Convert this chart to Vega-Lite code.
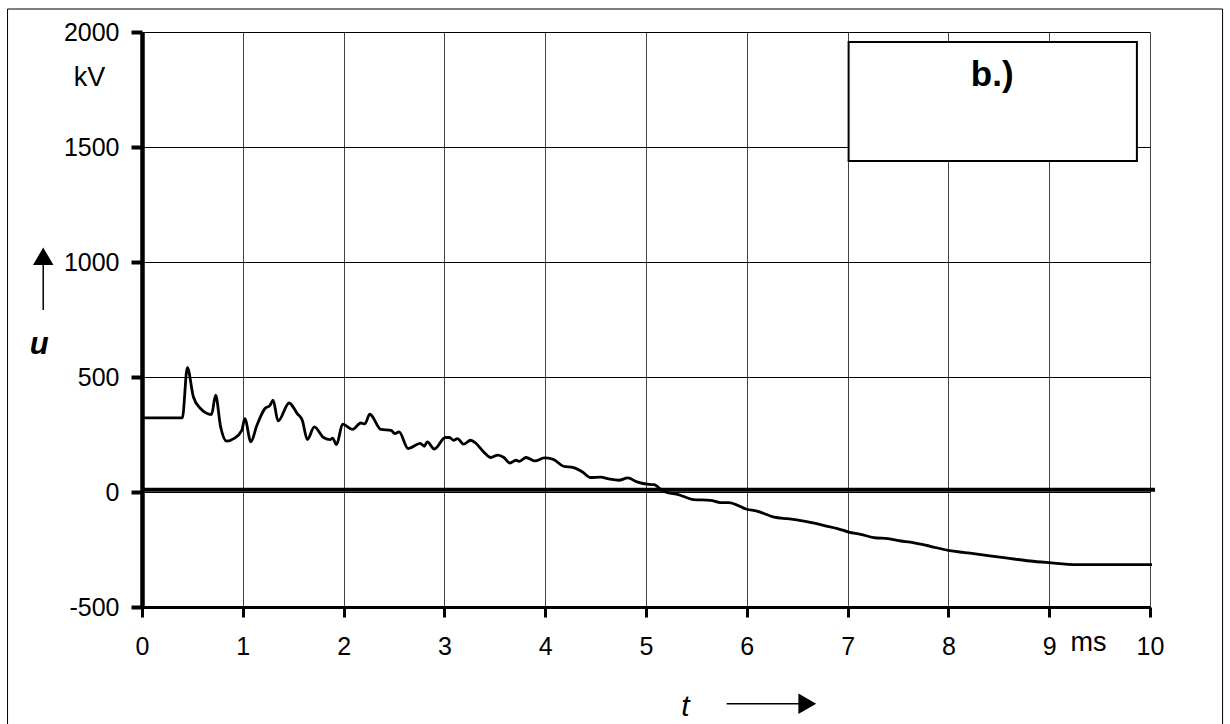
{
  "$schema": "https://vega.github.io/schema/vega-lite/v6.json",
  "width": 1008,
  "height": 575,
  "autosize": "none",
  "padding": {"left": 142, "top": 32, "right": 80, "bottom": 117},
  "background": "white",
  "config": {
    "view": {"stroke": null},
    "font": "Liberation Sans",
    "text": {"font": "Liberation Sans", "color": "black"}
  },
  "datasets": {
    "curve": [
      {"t": 0, "u": 322}, {"t": 0.40, "u": 322}, {"t": 0.45, "u": 541}, {"t": 0.51, "u": 413},
      {"t": 0.58, "u": 363}, {"t": 0.69, "u": 337}, {"t": 0.73, "u": 421}, {"t": 0.78, "u": 283},
      {"t": 0.84, "u": 221}, {"t": 0.91, "u": 232}, {"t": 0.99, "u": 268}, {"t": 1.02, "u": 319},
      {"t": 1.08, "u": 218}, {"t": 1.14, "u": 290}, {"t": 1.22, "u": 363}, {"t": 1.27, "u": 377},
      {"t": 1.30, "u": 399}, {"t": 1.35, "u": 309}, {"t": 1.46, "u": 387}, {"t": 1.54, "u": 341},
      {"t": 1.59, "u": 312}, {"t": 1.64, "u": 228}, {"t": 1.71, "u": 283}, {"t": 1.80, "u": 237},
      {"t": 1.87, "u": 228}, {"t": 1.89, "u": 234}, {"t": 1.93, "u": 206}, {"t": 1.99, "u": 295},
      {"t": 2.09, "u": 272}, {"t": 2.17, "u": 300}, {"t": 2.21, "u": 296}, {"t": 2.26, "u": 338},
      {"t": 2.37, "u": 272}, {"t": 2.47, "u": 268}, {"t": 2.51, "u": 254}, {"t": 2.55, "u": 261},
      {"t": 2.64, "u": 189}, {"t": 2.76, "u": 211}, {"t": 2.80, "u": 199}, {"t": 2.83, "u": 218},
      {"t": 2.90, "u": 187}, {"t": 3.01, "u": 237}, {"t": 3.05, "u": 237}, {"t": 3.09, "u": 225},
      {"t": 3.13, "u": 232}, {"t": 3.19, "u": 208}, {"t": 3.26, "u": 225}, {"t": 3.31, "u": 213},
      {"t": 3.39, "u": 174}, {"t": 3.46, "u": 150}, {"t": 3.53, "u": 160}, {"t": 3.59, "u": 150},
      {"t": 3.65, "u": 126}, {"t": 3.71, "u": 138}, {"t": 3.74, "u": 133}, {"t": 3.81, "u": 150},
      {"t": 3.90, "u": 135}, {"t": 3.99, "u": 148}, {"t": 4.08, "u": 142}, {"t": 4.18, "u": 112},
      {"t": 4.28, "u": 106}, {"t": 4.37, "u": 87}, {"t": 4.45, "u": 63}, {"t": 4.55, "u": 65},
      {"t": 4.63, "u": 57}, {"t": 4.73, "u": 51}, {"t": 4.82, "u": 61}, {"t": 4.91, "u": 44},
      {"t": 5.03, "u": 33}, {"t": 5.08, "u": 32}, {"t": 5.16, "u": 7}, {"t": 5.34, "u": -14},
      {"t": 5.47, "u": -33}, {"t": 5.64, "u": -36}, {"t": 5.74, "u": -46}, {"t": 5.82, "u": -46},
      {"t": 6.00, "u": -75}, {"t": 6.10, "u": -83}, {"t": 6.27, "u": -109}, {"t": 6.40, "u": -116},
      {"t": 6.46, "u": -119}, {"t": 6.63, "u": -132}, {"t": 6.77, "u": -146}, {"t": 6.90, "u": -159},
      {"t": 7.01, "u": -174}, {"t": 7.13, "u": -184}, {"t": 7.26, "u": -198}, {"t": 7.40, "u": -203},
      {"t": 7.53, "u": -213}, {"t": 7.62, "u": -218}, {"t": 7.82, "u": -236}, {"t": 8.00, "u": -254},
      {"t": 8.25, "u": -268}, {"t": 8.51, "u": -283}, {"t": 8.81, "u": -300}, {"t": 8.99, "u": -307},
      {"t": 9.27, "u": -316}, {"t": 9.54, "u": -316}, {"t": 10.02, "u": -316}
    ]
  },
  "encoding": {
    "x": {
      "field": "t", "type": "quantitative", "title": null,
      "scale": {"domain": [0, 10], "nice": false, "zero": false},
      "axis": {
        "values": [0, 1, 2, 3, 4, 5, 6, 7, 8, 9, 10], "labelExpr": "datum.value + ''",
        "labelFontSize": 25, "labelColor": "black", "labelFont": "Liberation Sans",
        "tickColor": "black", "tickSize": 10, "tickWidth": 3,
        "domainColor": "black", "domainWidth": 3,
        "grid": true, "gridColor": "#444", "gridWidth": 1,
        "labelPadding": 17, "labelFlush": false, "labelOverlap": false
      }
    },
    "y": {
      "field": "u", "type": "quantitative", "title": null,
      "scale": {"domain": [-500, 2000], "nice": false, "zero": false},
      "axis": {
        "values": [-500, 0, 500, 1000, 1500, 2000], "labelExpr": "datum.value + ''",
        "labelFontSize": 25, "labelColor": "black", "labelFont": "Liberation Sans",
        "tickColor": "black", "tickSize": 11, "tickWidth": 4,
        "domainColor": "black", "domainWidth": 4.5,
        "grid": true, "gridColor": "black", "gridWidth": 1,
        "labelPadding": 12, "labelFlush": false, "labelOverlap": false
      }
    }
  },
  "layer": [
    {
      "data": {"values": [{"t": 7.01, "t2": 9.87, "u": 1957, "u2": 1439}]},
      "mark": {"type": "rect", "fill": "white", "stroke": "black", "strokeWidth": 2},
      "encoding": {"x2": {"field": "t2"}, "y2": {"field": "u2"}}
    },
    {
      "data": {"values": [{"t": 0, "t2": 10.05, "u": 10}]},
      "mark": {"type": "rule", "color": "black", "strokeWidth": 4},
      "encoding": {"x2": {"field": "t2"}}
    },
    {
      "data": {"name": "curve"},
      "mark": {"type": "line", "color": "black", "strokeWidth": 2.8, "strokeJoin": "round", "interpolate": "monotone", "clip": false}
    },
    {
      "data": {"values": [
        {"t": -0.52, "u": 1800, "label": "kV"},
        {"t": 9.39, "u": -655, "label": "ms"}
      ]},
      "mark": {"type": "text", "fontSize": 27, "align": "center", "baseline": "middle"},
      "encoding": {"text": {"field": "label"}}
    },
    {
      "data": {"values": [{"t": -1.02, "u": 640, "label": "u"}]},
      "mark": {"type": "text", "fontSize": 31, "fontWeight": "bold", "fontStyle": "italic", "align": "center", "baseline": "middle"},
      "encoding": {"text": {"field": "label"}}
    },
    {
      "data": {"values": [{"t": 5.39, "u": -935, "label": "t"}]},
      "mark": {"type": "text", "fontSize": 30, "fontStyle": "italic", "align": "center", "baseline": "middle"},
      "encoding": {"text": {"field": "label"}}
    },
    {
      "data": {"values": [{"t": 8.434, "u": 1813, "label": "b.)"}]},
      "mark": {"type": "text", "fontSize": 35, "fontWeight": "bold", "align": "center", "baseline": "middle"},
      "encoding": {"text": {"field": "label"}}
    },
    {
      "data": {"values": [
        {"t": -0.98, "t2": -0.98, "u": 1000, "u2": 791},
        {"t": 5.80, "t2": 6.55, "u": -921, "u2": -921}
      ]},
      "mark": {"type": "rule", "color": "black", "strokeWidth": 1.5},
      "encoding": {"x2": {"field": "t2"}, "y2": {"field": "u2"}}
    },
    {
      "data": {"values": [{"t": -0.98, "u": 1025}]},
      "mark": {"type": "point", "shape": "triangle-up", "filled": true, "color": "black", "size": 420, "opacity": 1}
    },
    {
      "data": {"values": [{"t": 6.6, "u": -921}]},
      "mark": {"type": "point", "shape": "triangle-right", "filled": true, "color": "black", "size": 420, "opacity": 1}
    },
    {
      "data": {"values": [{"t": -1.334, "t2": 10.72, "u": 2100, "u2": -1300}]},
      "mark": {"type": "rect", "filled": false, "stroke": "black", "strokeWidth": 1, "clip": false},
      "encoding": {"x2": {"field": "t2"}, "y2": {"field": "u2"}}
    }
  ]
}
